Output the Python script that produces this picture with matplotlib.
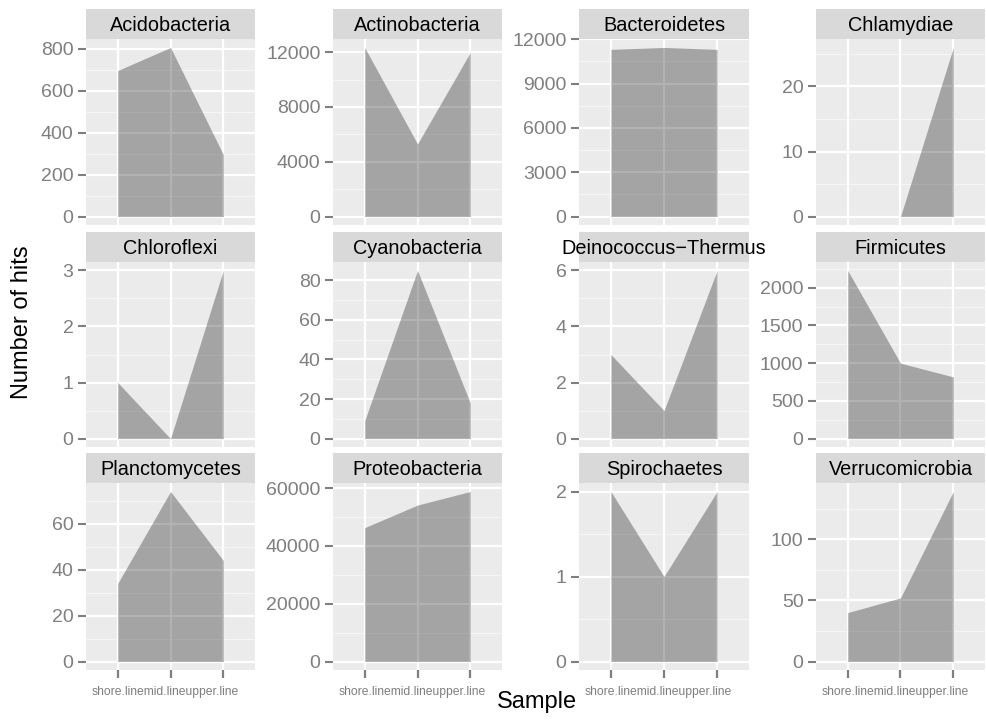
import numpy as np
import matplotlib
matplotlib.use("Agg")
import matplotlib.pyplot as plt
import matplotlib.transforms as mtrans

plt.rcParams["font.family"] = ["Liberation Sans", "DejaVu Sans"]

samples = ["shore.line", "mid.line", "upper.line"]

phyla = ["Acidobacteria", "Actinobacteria", "Bacteroidetes", "Chlamydiae",
         "Chloroflexi", "Cyanobacteria", "Deinococcus\u2212Thermus", "Firmicutes",
         "Planctomycetes", "Proteobacteria", "Spirochaetes", "Verrucomicrobia"]

acidobacteria = [695, 805, 295]
actinobacteria = [12340, 5300, 11980]
bacteroidetes = [11320, 11450, 11320]
chlamydiae = [0, 0, 26]
chloroflexi = [1, 0, 3]
cyanobacteria = [9, 85, 18]
deinococcus = [3, 1, 6]
firmicutes = [2230, 1000, 818]
planctomycetes = [34, 74, 44]
proteobacteria = [46300, 54100, 58800]
spirochaetes = [2, 1, 2]
verrucomicrobia = [40, 52, 139]

hits = [acidobacteria, actinobacteria, bacteroidetes, chlamydiae,
        chloroflexi, cyanobacteria, deinococcus, firmicutes,
        planctomycetes, proteobacteria, spirochaetes, verrucomicrobia]

ybreaks = [[0, 200, 400, 600, 800], [0, 4000, 8000, 12000],
           [0, 3000, 6000, 9000, 12000], [0, 10, 20],
           [0, 1, 2, 3], [0, 20, 40, 60, 80], [0, 2, 4, 6],
           [0, 500, 1000, 1500, 2000], [0, 20, 40, 60],
           [0, 20000, 40000, 60000], [0, 1, 2], [0, 50, 100]]

W, H = 987, 724
fig = plt.figure(figsize=(W / 100, H / 100), dpi=100)

cols = [(86, 255), (333, 502), (579, 749), (816, 985)]
rows = [(39, 225), (262, 447), (483, 670)]
strip_h = 30

bg = "#EBEBEB"
strip_bg = "#D9D9D9"
grey50 = "#7F7F7F"

def box(x0, x1, y0, y1):
    return [x0 / W, 1 - y1 / H, (x1 - x0) / W, (y1 - y0) / H]

x = np.arange(1, len(samples) + 1)

for i, (name, vals, brk) in enumerate(zip(phyla, hits, ybreaks)):
    r, c = divmod(i, 4)
    x0, x1 = cols[c]
    y0, y1 = rows[r]
    ax = fig.add_axes(box(x0, x1, y0, y1))
    ax.set_facecolor(bg)
    for s in ax.spines.values():
        s.set_visible(False)

    top = max(vals)
    lo, hi = 0 - 0.05 * top, top + 0.05 * top
    ax.set_ylim(lo, hi)
    ax.set_xlim(0.4, 3.6)

    # minor grid halfway between the breaks, ggplot style
    step = brk[1] - brk[0]
    minors = np.arange(brk[0] - step / 2, brk[-1] + step, step)
    minors = [m for m in minors if lo < m < hi]
    for m in minors:
        ax.axhline(m, color="#F5F5F5", lw=1.0, zorder=1)
    for b in brk:
        ax.axhline(b, color="white", lw=1.6, zorder=1.5)
    for xv in x:
        ax.axvline(xv, color="white", lw=1.6, zorder=1.5)

    ax.fill_between(x, 0, vals, color="black", alpha=0.3, lw=0, zorder=2)

    ax.set_yticks(brk)
    ax.set_yticklabels([str(b) for b in brk])
    ax.tick_params(axis="y", length=6, width=1.5, color=grey50,
                   labelcolor=grey50, labelsize=14, pad=3)
    ax.set_xticks(x)
    ax.set_xticklabels([])
    if r == 2:
        ax.tick_params(axis="x", length=6, width=1.6, color=grey50)
        # the three sample labels run into each other in the original
        trans = mtrans.blended_transform_factory(ax.transData, ax.transAxes)
        ax.text(0.515, -16 / 186, "".join(samples), transform=trans,
                ha="left", va="top", fontsize=8.7, color=grey50)
    else:
        ax.tick_params(axis="x", length=0)

    sax = fig.add_axes(box(x0, x1, y0 - strip_h, y0))
    sax.set_facecolor(strip_bg)
    sax.set_xticks([])
    sax.set_yticks([])
    for s in sax.spines.values():
        s.set_visible(False)
    sax.text(0.5, 0.45, name, transform=sax.transAxes, ha="center",
             va="center", fontsize=14.3, color="black", clip_on=False)

fig.text(22 / W, 1 - 322 / H, "Number of hits", rotation=90, ha="center",
         va="center", fontsize=17)
fig.text(537 / W, 1 - 702 / H, "Sample", ha="center", va="center",
         fontsize=17)

fig.savefig("out.png", dpi=100)
